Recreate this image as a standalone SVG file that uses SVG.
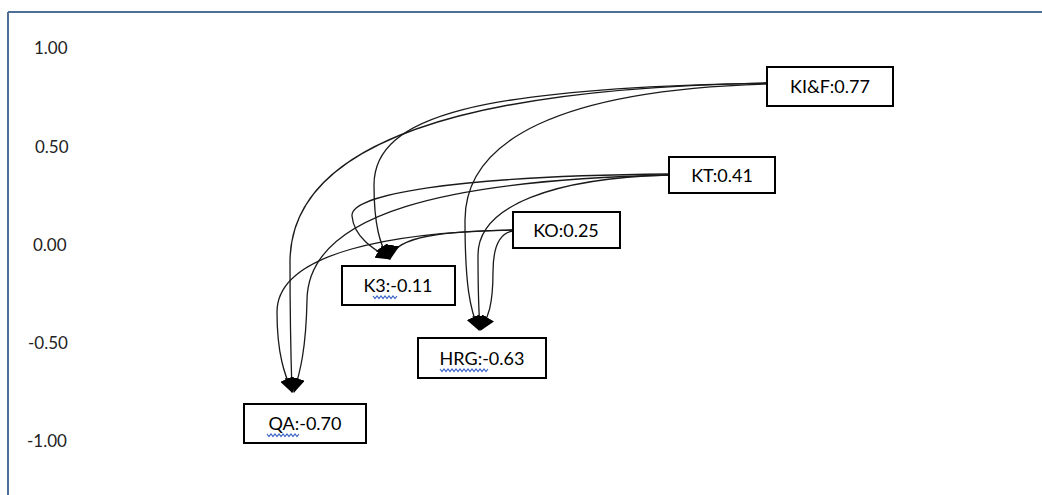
<svg xmlns="http://www.w3.org/2000/svg" width="1042" height="495" viewBox="0 0 1042 495">
<style>
.box{fill:#fff;stroke:#000;stroke-width:2}
.lbl{font-family:Lato,"Open Sans","Liberation Sans",sans-serif;font-size:18px;fill:#000;text-anchor:middle}
.ax{font-family:Lato,"Open Sans","Liberation Sans",sans-serif;font-size:17px;fill:#222}
.con{fill:none;stroke:#1a1a1a;stroke-width:1.3;marker-end:url(#ah)}
.wave{fill:none;stroke:#3b63c4;stroke-width:1.2}
</style>
<defs>
<marker id="ah" markerUnits="userSpaceOnUse" markerWidth="15" markerHeight="14" viewBox="0 0 15 14" refX="14" refY="7" orient="auto">
<path d="M0,0 L15,7 L0,14 z" fill="#000"/>
</marker>
</defs>
<rect x="0" y="0" width="1042" height="495" fill="#fff"/>
<g id="frame">
<line x1="8" y1="12" x2="1042" y2="12" stroke="#4f6f96" stroke-width="2"/>
<line x1="8" y1="12" x2="8" y2="495" stroke="#4f6f96" stroke-width="2"/>
</g>
<g id="axis">
<text class="ax" x="34" y="54">1.00</text>
<text class="ax" x="35" y="153">0.50</text>
<text class="ax" x="33" y="251">0.00</text>
<text class="ax" x="28" y="349">-0.50</text>
<text class="ax" x="27" y="447">-1.00</text>
</g>
<g id="connectors">
<path class="con" d="M767,83 C470,88 290,140 290,262 C290,330 291,360 292,392"/>
<path class="con" d="M767,83 C480,88 374,115 374,185 C374,225 380,245 389,259"/>
<path class="con" d="M767,84 C560,90 465,140 465,220 C465,285 470,310 479,330"/>
<path class="con" d="M669,174 C450,176 350,195 352,216 C354,238 375,250 390,259"/>
<path class="con" d="M669,175 C450,180 308,212 307,300 C306,350 300,372 294,392"/>
<path class="con" d="M669,175 C555,178 478,205 478,255 C478,300 479,315 480,330"/>
<path class="con" d="M513,230 C445,231 394,236 390,259"/>
<path class="con" d="M513,230 C395,232 277,252 277,312 C277,355 285,375 292,392"/>
<path class="con" d="M513,231 C499,233 493,248 493,272 C493,305 488,318 481,330"/>
</g>
<g id="KIF">
<rect class="box" x="767" y="67" width="126" height="39"/>
<text class="lbl" x="830" y="93">KI&amp;F:0.77</text>
</g>
<g id="KT">
<rect class="box" x="669" y="157" width="106" height="36"/>
<text class="lbl" x="722" y="182">KT:0.41</text>
</g>
<g id="KO">
<rect class="box" x="513" y="212" width="107" height="36"/>
<text class="lbl" x="566" y="237">KO:0.25</text>
</g>
<g id="K3">
<rect class="box" x="342" y="266" width="113" height="39"/>
<text class="lbl" x="398" y="292">K3:-0.11</text>
<path class="wave" d="M373,296 l2,2.5 l2,-2.5 l2,2.5 l2,-2.5 l2,2.5 l2,-2.5 l2,2.5 l2,-2.5 l2,2.5 l2,-2.5 l2,2.5 l2,-2.5"/>
</g>
<g id="HRG">
<rect class="box" x="418" y="338" width="128" height="40"/>
<text class="lbl" x="482" y="365">HRG:-0.63</text>
<path class="wave" d="M440,369 l2,2.5 l2,-2.5 l2,2.5 l2,-2.5 l2,2.5 l2,-2.5 l2,2.5 l2,-2.5 l2,2.5 l2,-2.5 l2,2.5 l2,-2.5 l2,2.5 l2,-2.5 l2,2.5 l2,-2.5 l2,2.5 l2,-2.5 l2,2.5 l2,-2.5 l2,2.5 l2,-2.5 l2,2.5 l2,-2.5"/>
</g>
<g id="QA">
<rect class="box" x="244" y="404" width="122" height="39"/>
<text class="lbl" x="305" y="430">QA:-0.70</text>
<path class="wave" d="M267,434 l2,2.5 l2,-2.5 l2,2.5 l2,-2.5 l2,2.5 l2,-2.5 l2,2.5 l2,-2.5 l2,2.5 l2,-2.5 l2,2.5 l2,-2.5 l2,2.5 l2,-2.5 l2,2.5 l2,-2.5"/>
</g>
</svg>
